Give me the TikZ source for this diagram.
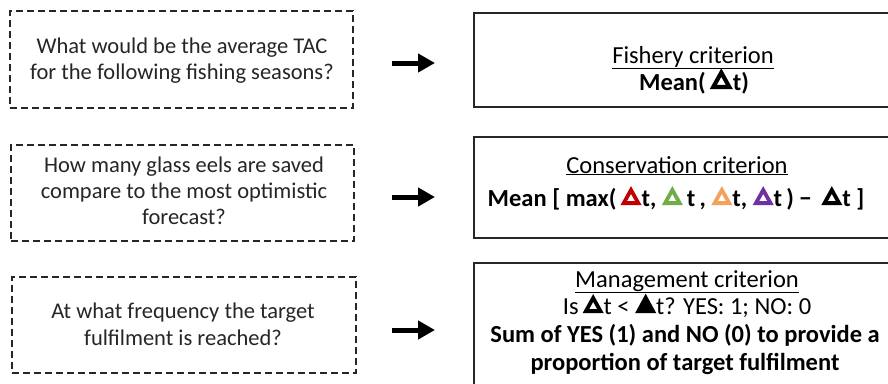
\documentclass[tikz,border=0pt]{standalone}
\usepackage{fontspec}
\setmainfont{Carlito}
\usetikzlibrary{arrows.meta}
\definecolor{tred}{HTML}{C00000}
\definecolor{tgreen}{HTML}{70AD47}
\definecolor{torange}{HTML}{F4A15C}
\definecolor{tpurple}{HTML}{7030A0}
\newcommand\otri[2]{\tikz[baseline=-1pt]\fill[#1,even odd rule] (0pt,0pt) -- (#2pt,0pt) -- ({0.5*#2pt},{0.9*#2pt}) -- cycle ({0.306*#2pt},{0.18*#2pt}) -- ({0.694*#2pt},{0.18*#2pt}) -- ({0.5*#2pt},{0.529*#2pt}) -- cycle;}
\newcommand\ftri[1]{\tikz[baseline=-1pt]\fill[black] (0pt,0pt) -- (#1pt,0pt) -- ({#1pt/2},{0.92*#1pt}) -- cycle;}
\tikzset{
  qbox/.style={draw=black!85, line width=1.7pt, dash pattern=on 7pt off 4pt, inner sep=0pt},
  cbox/.style={draw=black!85, line width=2pt, inner sep=0pt},
  qtext/.style={anchor=base, inner sep=0pt, font=\fontsize{22.5}{27}\selectfont, text=black!85},
  ctext/.style={anchor=base, inner sep=0pt, font=\fontsize{24.5}{29}\selectfont, text=black},
  bigarrow/.style={line width=5pt, -{Triangle[length=17pt,width=18pt]}},
}
\begin{document}
\begin{tikzpicture}[x=1pt,y=-1pt]
\useasboundingbox (0,0) rectangle (888,383);
\clip (0,0) rectangle (888,383);
\fill[white] (0,0) rectangle (888,383);

% question boxes
\node[qbox, minimum width=343pt, minimum height=97pt] (q1) at (181.5,59.5) {};
\node[qbox, minimum width=343pt, minimum height=96pt] (q2) at (182.5,193) {};
\node[qbox, minimum width=344pt, minimum height=96pt] (q3) at (184,325) {};

\node[qtext] (q1a) at (182,53) {What would be the average TAC};
\node[qtext] (q1b) at (182,79) {for the following fishing seasons?};
\node[qtext] (q2a) at (184,172) {How many glass eels are saved};
\node[qtext] (q2b) at (184,198) {compare to the most optimistic};
\node[qtext] (q2c) at (184,224) {forecast?};
\node[qtext] (q3a) at (183,318) {At what frequency the target};
\node[qtext] (q3b) at (183,345) {fulfilment is reached?};

% criterion boxes
\node[cbox, minimum width=426pt, minimum height=94pt] (c1) at (687,60) {};
\node[cbox, minimum width=426pt, minimum height=101pt] (c2) at (687,187.5) {};
\node[cbox, minimum width=426pt, minimum height=132pt] (c3) at (687,329) {};

\node[ctext] (c1a) at (693,63) {\underline{Fishery criterion}};
\node[ctext] (c1b) at (694,90) {\textbf{Mean(\,\otri{black}{23}t)}};
\node[ctext] (c2a) at (677,173) {\underline{Conservation criterion}};
\node[ctext] (c2b) at (676,206) {\textbf{Mean [ max(\,\otri{tred}{21}t, \otri{tgreen}{21}\,t\,, \otri{torange}{21}t, \otri{tpurple}{21}t\,) − \,\otri{black}{21}t ]}};
\node[ctext] (c3a) at (687,287) {\underline{Management criterion}};
\node[ctext] (c3b) at (687,314) {Is\,\otri{black}{21}t < \ftri{21}t? YES: 1; NO: 0};
\node[ctext] (c3c) at (685,342) {\textbf{Sum of YES (1) and NO (0) to provide a}};
\node[ctext] (c3d) at (685,370) {\textbf{proportion of target fulfilment}};

% arrows
\coordinate (a1s) at (392,63);
\coordinate (a1e) at (435,63);
\coordinate (a2s) at (392,197);
\coordinate (a2e) at (435,197);
\coordinate (a3s) at (392,330);
\coordinate (a3e) at (435,330);
\draw[bigarrow] (a1s) -- (a1e);
\draw[bigarrow] (a2s) -- (a2e);
\draw[bigarrow] (a3s) -- (a3e);
\end{tikzpicture}
\end{document}
